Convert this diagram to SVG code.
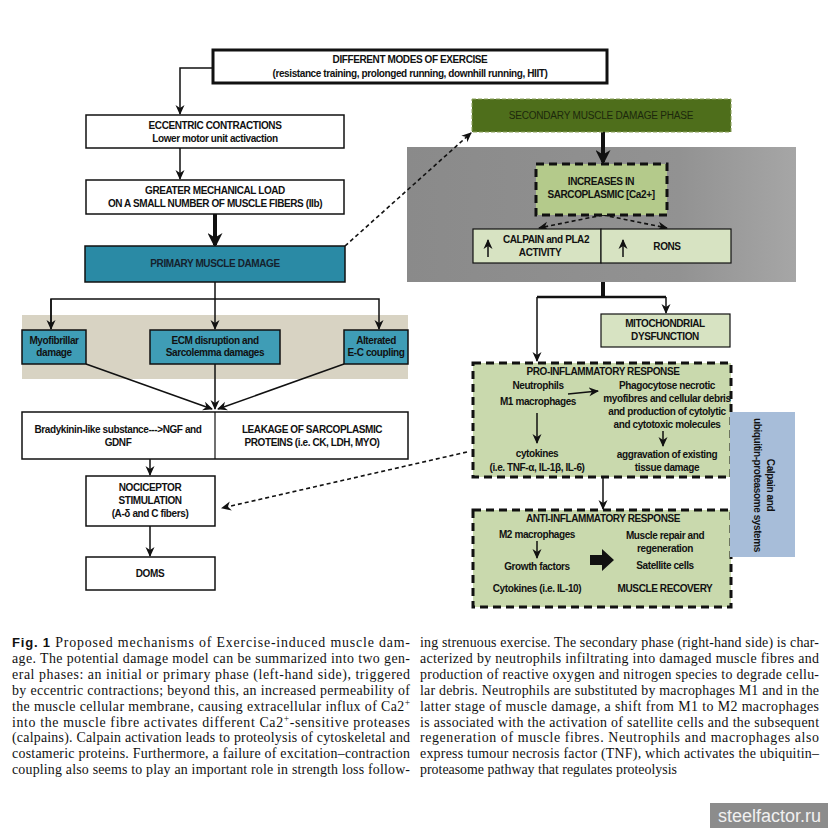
<svg xmlns="http://www.w3.org/2000/svg" width="828" height="828" viewBox="0 0 828 828">
<defs>
<style>
.t{font-family:"Liberation Sans",Arial,sans-serif;font-size:10px;font-weight:bold;fill:#111;text-anchor:middle;letter-spacing:-0.4px}
.n{font-weight:normal}
.box{fill:#fff;stroke:#111;stroke-width:1.5}
.teal{fill:#2a8aa5;stroke:#111;stroke-width:1.5}
.lteal{fill:#3f9db6;stroke:#111;stroke-width:1.5}
.lg{fill:#d7e3c2;stroke:#111;stroke-width:1.2}
.dash{fill:#c9d9ad;stroke:#111;stroke-width:3;stroke-dasharray:8 5}
.ln{fill:none;stroke:#111;stroke-width:1.5}
.dl{fill:none;stroke:#111;stroke-width:1.6;stroke-dasharray:4 3}
.thick{fill:none;stroke:#111;stroke-width:4}
.cap{font-family:"Liberation Serif","Times New Roman",serif;font-size:13.9px;fill:#111}
</style>
<marker id="arr" viewBox="0 0 10 10" refX="9" refY="5" markerWidth="10" markerHeight="10" markerUnits="userSpaceOnUse" orient="auto">
<path d="M0,0.5 L10,5 L0,9.5 L3,5 z" fill="#111"/>
</marker>
<marker id="arrB" viewBox="0 0 10 10" refX="8" refY="5" markerWidth="15" markerHeight="15" markerUnits="userSpaceOnUse" orient="auto">
<path d="M0,0 L10,5 L0,10 L3,5 z" fill="#111"/>
</marker>
<linearGradient id="gp" x1="0" x2="1" y1="0" y2="0">
<stop offset="0" stop-color="#8a8a8a"/>
<stop offset="0.7" stop-color="#929292"/>
<stop offset="1" stop-color="#a6a6a6"/>
</linearGradient>
</defs>
<rect width="828" height="828" fill="#fff"/>

<rect id="band" x="22" y="315" width="386" height="64" fill="#d8d3c3"/>
<rect id="grayPanel" x="407" y="147" width="389" height="135" fill="url(#gp)"/>

<g id="connectors">
<path class="ln" d="M213,68 H180 V114" marker-end="url(#arr)"/>
<path class="ln" d="M180,148 V179" marker-end="url(#arr)"/>
<path class="thick" d="M215,214 V245" marker-end="url(#arrB)"/>
<path class="ln" d="M215,282 V329" marker-end="url(#arr)"/>
<path class="ln" d="M51,329 V299 H379 V329" marker-end="url(#arr)"/>
<path class="ln" d="M51,299 V329" marker-end="url(#arr)"/>
<path class="ln" d="M86,364 L212,409" marker-end="url(#arr)"/>
<path class="ln" d="M215,364 V409" marker-end="url(#arr)"/>
<path class="ln" d="M344,364 L218,409" marker-end="url(#arr)"/>
<path class="ln" d="M150,459 V475" marker-end="url(#arr)"/>
<path class="ln" d="M150,526 V556" marker-end="url(#arr)"/>
<path class="dl" d="M467,452 L222,508" marker-end="url(#arr)"/>
<path class="dl" d="M345,246 L471,133" marker-end="url(#arr)"/>
<path class="thick" d="M603,132 V162" marker-end="url(#arrB)"/>
<path class="dl" d="M603,215 L539,228" marker-end="url(#arr)"/>
<path class="dl" d="M603,215 L667,228" marker-end="url(#arr)"/>
<path class="thick" d="M603,282 V298"/>
<path fill="none" stroke="#111" stroke-width="2.5" d="M537,297 H666"/>
<path class="ln" d="M537,297 V361" marker-end="url(#arr)"/>
<path class="ln" d="M666,297 V313" marker-end="url(#arr)"/>
<path class="ln" d="M603,477 V509" marker-end="url(#arr)"/>
</g>

<g id="modes">
<rect x="213" y="50" width="394" height="33" fill="#fff" stroke="#111" stroke-width="3"/>
<text class="t" x="410" y="63">DIFFERENT MODES OF EXERCISE</text>
<text class="t" x="410" y="77" font-size="9.5">(resistance training, prolonged running, downhill running, HIIT)</text>
</g>

<g id="eccentric">
<rect class="box" x="86" y="115" width="258" height="33"/>
<text class="t" x="215" y="129">ECCENTRIC CONTRACTIONS</text>
<text class="t" x="215" y="142">Lower motor unit activaction</text>
</g>

<g id="load">
<rect class="box" x="86" y="180" width="258" height="34"/>
<text class="t" x="215" y="194">GREATER MECHANICAL LOAD</text>
<text class="t" x="215" y="207">ON A SMALL NUMBER OF MUSCLE FIBERS (IIb)</text>
</g>

<g id="primary">
<rect class="teal" x="85" y="246" width="260" height="36"/>
<text class="t" x="215" y="267" style="fill:#15222e">PRIMARY MUSCLE DAMAGE</text>
</g>

<g id="myofibrillar">
<rect class="lteal" x="22" y="330" width="64" height="34"/>
<text class="t" x="54" y="344">Myofibrillar</text>
<text class="t" x="54" y="356">damage</text>
</g>

<g id="ecm">
<rect class="lteal" x="150" y="330" width="130" height="34"/>
<text class="t" x="215" y="344">ECM disruption and</text>
<text class="t" x="215" y="356">Sarcolemma damages</text>
</g>

<g id="ec">
<rect class="lteal" x="344" y="330" width="64" height="34"/>
<text class="t" x="376" y="344">Alterated</text>
<text class="t" x="376" y="356">E-C coupling</text>
</g>

<g id="substances">
<rect class="box" x="22" y="412" width="386" height="47"/>
<line x1="215" y1="412" x2="215" y2="459" stroke="#111" stroke-width="1.2"/>
<text class="t" x="118" y="433">Bradykinin-like substance---&gt;NGF and</text>
<text class="t" x="118" y="446">GDNF</text>
<text class="t" x="312" y="433">LEAKAGE OF SARCOPLASMIC</text>
<text class="t" x="312" y="446">PROTEINS  (i.e. CK, LDH, MYO)</text>
</g>

<g id="nociceptor">
<rect class="box" x="86" y="476" width="129" height="50"/>
<text class="t" x="150" y="491">NOCICEPTOR</text>
<text class="t" x="150" y="504">STIMULATION</text>
<text class="t" x="150" y="517">(A-δ and C fibers)</text>
</g>

<g id="doms">
<rect class="box" x="86" y="557" width="129" height="33"/>
<text class="t" x="150" y="577">DOMS</text>
</g>

<g id="secondary">
<rect x="472" y="99" width="259" height="33" fill="#4e6e1b" stroke="#8aa05a" stroke-width="1" stroke-dasharray="4 2"/>
<text class="t n" x="601" y="119" style="fill:#1c280c;letter-spacing:-0.2px">SECONDARY MUSCLE DAMAGE PHASE</text>
</g>

<g id="increases">
<rect x="536" y="164" width="131" height="51" fill="#b4ca8b" stroke="#111" stroke-width="3" stroke-dasharray="8 5"/>
<text class="t" x="601" y="185">INCREASES IN</text>
<text class="t" x="601" y="198">SARCOPLASMIC [Ca2+]</text>
</g>

<g id="calpain">
<rect class="lg" x="473" y="229" width="128" height="34"/>
<path class="ln" d="M488,257 V240" marker-end="url(#arr)"/>
<text class="t" x="546" y="243">CALPAIN and PLA2</text>
<text class="t" x="540" y="256">ACTIVITY</text>
</g>

<g id="rons">
<rect class="lg" x="601" y="229" width="130" height="34"/>
<path class="ln" d="M623,257 V240" marker-end="url(#arr)"/>
<text class="t" x="667" y="250">RONS</text>
</g>

<g id="mito">
<rect class="lg" x="601" y="314" width="129" height="33"/>
<text class="t" x="665" y="327">MITOCHONDRIAL</text>
<text class="t" x="665" y="340">DYSFUNCTION</text>
</g>

<g id="proinflammatory">
<rect class="dash" x="473" y="363" width="258" height="114"/>
<text class="t" x="603" y="375">PRO-INFLAMMATORY RESPONSE</text>
<text class="t" x="538" y="389">Neutrophils</text>
<text class="t" x="538" y="405">M1 macrophages</text>
<path class="ln" d="M568,394 L598,391" marker-end="url(#arr)"/>
<text class="t" x="667" y="389">Phagocytose necrotic</text>
<text class="t" x="667" y="402">myofibres and cellular debris</text>
<text class="t" x="667" y="415">and production of cytolytic</text>
<text class="t" x="667" y="428">and cytotoxic molecules</text>
<path class="ln" d="M537,413 V443" marker-end="url(#arr)"/>
<path class="ln" d="M663,431 V446" marker-end="url(#arr)"/>
<text class="t" x="537" y="457">cytokines</text>
<text class="t" x="537" y="471">(i.e. TNF-α, IL-1β, IL-6)</text>
<text class="t" x="667" y="458">aggravation of  existing</text>
<text class="t" x="667" y="471">tissue damage</text>
</g>

<g id="antiinflammatory">
<rect class="dash" x="473" y="510" width="258" height="97"/>
<text class="t" x="603" y="522">ANTI-INFLAMMATORY RESPONSE</text>
<text class="t" x="537" y="538">M2 macrophages</text>
<path class="ln" d="M537,541 V558" marker-end="url(#arr)"/>
<text class="t" x="537" y="570">Growth factors</text>
<text class="t" x="537" y="592">Cytokines  (i.e. IL-10)</text>
<polygon points="590,555 602,555 602,549 614,560 602,571 602,565 590,565" fill="#111"/>
<text class="t" x="665" y="539">Muscle repair and</text>
<text class="t" x="665" y="552">regeneration</text>
<text class="t" x="665" y="569">Satellite cells</text>
<text class="t" x="665" y="592">MUSCLE RECOVERY</text>
</g>

<g id="calpainSystems">
<rect x="730" y="412" width="65" height="145" fill="#a7bdd9"/>
<text class="t" transform="translate(767,485) rotate(90)" x="0" y="0">Calpain and</text>
<text class="t" transform="translate(754,485) rotate(90)" x="0" y="0">ubiquitin-proteasome systems</text>
</g>

<g id="caption">
<text class="cap" x="12" y="647" textLength="398" lengthAdjust="spacing"><tspan font-family="Liberation Sans,Arial,sans-serif" font-weight="bold" font-size="13">Fig. 1</tspan> Proposed mechanisms of Exercise-induced muscle dam-</text>
<text class="cap" x="12" y="663" textLength="398" lengthAdjust="spacing">age. The potential damage model can be summarized into two gen-</text>
<text class="cap" x="12" y="679" textLength="398" lengthAdjust="spacing">eral phases: an initial or primary phase (left-hand side), triggered</text>
<text class="cap" x="12" y="695" textLength="398" lengthAdjust="spacing">by eccentric contractions; beyond this, an increased permeability of</text>
<text class="cap" x="12" y="711" textLength="398" lengthAdjust="spacing">the muscle cellular membrane, causing extracellular influx of Ca2<tspan font-size="9.5" baseline-shift="super">+</tspan></text>
<text class="cap" x="12" y="727" textLength="398" lengthAdjust="spacing">into the muscle fibre activates different Ca2<tspan font-size="9.5" baseline-shift="super">+</tspan>-sensitive proteases</text>
<text class="cap" x="12" y="742" textLength="398" lengthAdjust="spacing">(calpains). Calpain activation leads to proteolysis of cytoskeletal and</text>
<text class="cap" x="12" y="758" textLength="398" lengthAdjust="spacing">costameric proteins. Furthermore, a failure of excitation–contraction</text>
<text class="cap" x="12" y="774" textLength="398" lengthAdjust="spacing">coupling also seems to play an important role in strength loss follow-</text>
<text class="cap" x="420" y="647" textLength="399" lengthAdjust="spacing">ing strenuous exercise. The secondary phase (right-hand side) is char-</text>
<text class="cap" x="420" y="663" textLength="399" lengthAdjust="spacing">acterized by neutrophils infiltrating into damaged muscle fibres and</text>
<text class="cap" x="420" y="679" textLength="399" lengthAdjust="spacing">production of reactive oxygen and nitrogen species to degrade cellu-</text>
<text class="cap" x="420" y="695" textLength="399" lengthAdjust="spacing">lar debris. Neutrophils are substituted by macrophages M1 and in the</text>
<text class="cap" x="420" y="711" textLength="399" lengthAdjust="spacing">latter stage of muscle damage, a shift from M1 to M2 macrophages</text>
<text class="cap" x="420" y="727" textLength="399" lengthAdjust="spacing">is associated with the activation of satellite cells and the subsequent</text>
<text class="cap" x="420" y="742" textLength="399" lengthAdjust="spacing">regeneration of muscle fibres. Neutrophils and macrophages also</text>
<text class="cap" x="420" y="758" textLength="399" lengthAdjust="spacing">express tumour necrosis factor (TNF), which activates the ubiquitin–</text>
<text class="cap" x="420" y="774">proteasome pathway that regulates proteolysis</text>
</g>

<g id="watermark">
<rect x="710" y="803" width="118" height="25" fill="#8c8c8c"/>
<text x="718" y="822" font-family="Liberation Sans,Arial,sans-serif" font-size="18" fill="#f0f0f0">steelfactor.ru</text>
</g>
</svg>
